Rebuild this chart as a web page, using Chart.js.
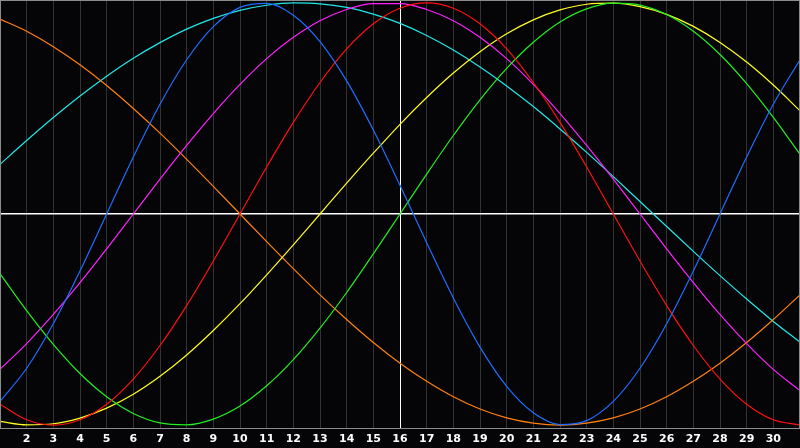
<!DOCTYPE html>
<html>
<head>
<meta charset="utf-8">
<script src="https://cdn.jsdelivr.net/npm/chart.js@4.4.1/dist/chart.umd.min.js"></script>
<style>
  html, body { margin: 0; padding: 0; background: #050508; }
  #wrap { width: 800px; height: 448px; }
</style>
</head>
<body>
<div id="wrap"><canvas id="bio"></canvas></div>
<script>
// days of the month shown on the x axis
const days = [1,2,3,4,5,6,7,8,9,10,11,12,13,14,15,16,17,18,19,20,21,22,23,24,25,26,27,28,29,30,31];
const today = 16;

// values in percent (one per day)
const physical     = [-88.8,-73.1,-52.0,-27.0,0,27.0,52.0,73.1,88.8,97.9,99.8,94.2,81.7,63.1,39.8,13.6,-13.6,-39.8,-63.1,-81.7,-94.2,-99.8,-97.9,-88.8,-73.1,-52.0,-27.0,0,27.0,52.0,73.1];
const emotional    = [-90.1,-97.5,-100,-97.5,-90.1,-78.2,-62.3,-43.4,-22.3,0,22.3,43.4,62.3,78.2,90.1,97.5,100,97.5,90.1,78.2,62.3,43.4,22.3,0,-22.3,-43.4,-62.3,-78.2,-90.1,-97.5,-100];
const intellectual = [-28.3,-45.8,-61.8,-75.6,-86.6,-94.5,-99.0,-99.9,-97.2,-91.0,-81.4,-69.0,-54.1,-37.2,-18.9,0,18.9,37.2,54.1,69.0,81.4,91.0,97.2,99.9,99.0,94.5,86.6,75.6,61.8,45.8,28.3];
const intuitive    = [-73.6,-61.4,-47.6,-32.5,-16.5,0,16.5,32.5,47.6,61.4,73.6,83.7,91.6,96.9,99.7,99.7,96.9,91.6,83.7,73.6,61.4,47.6,32.5,16.5,0,-16.5,-32.5,-47.6,-61.4,-73.6,-83.7];
const aesthetic    = [-98.3,-99.9,-99.4,-96.7,-92.0,-85.4,-76.9,-66.8,-55.2,-42.5,-28.8,-14.6,0,14.6,28.8,42.5,55.2,66.8,76.9,85.4,92.0,96.7,99.4,99.9,98.3,94.6,88.9,81.3,72.0,61.1,48.9];
const awareness    = [92.4,86.6,79.3,70.7,60.9,50.0,38.3,25.9,13.1,0,-13.1,-25.9,-38.3,-50.0,-60.9,-70.7,-79.3,-86.6,-92.4,-96.6,-99.1,-100,-99.1,-96.6,-92.4,-86.6,-79.3,-70.7,-60.9,-50.0,-38.3];
const spiritual    = [23.5,34.8,45.7,55.9,65.3,73.8,81.2,87.6,92.7,96.5,98.9,100,99.6,97.9,94.7,90.3,84.6,77.7,69.7,60.7,50.9,40.3,29.2,17.7,5.9,-5.9,-17.7,-29.2,-40.3,-50.9,-60.7];

const seriesNames  = ['Physical','Emotional','Intellectual','Intuitive','Aesthetic','Awareness','Spiritual'];
const seriesData   = [physical, emotional, intellectual, intuitive, aesthetic, awareness, spiritual];
const seriesColors = ['#1e6eff','#ff1010','#22ee22','#ff22ff','#ffff22','#ff8010','#22e8e8'];

// black backdrop plus the grey frame round the plot
const frame = {
  id: 'frame',
  beforeDraw(chart) {
    const c = chart.ctx;
    c.save();
    c.fillStyle = '#050508';
    c.fillRect(0, 0, chart.width, chart.height);
    c.restore();
  },
  afterDraw(chart) {
    const a = chart.chartArea;
    const c = chart.ctx;
    c.save();
    c.strokeStyle = '#8c8c8c';
    c.lineWidth = 1;
    c.strokeRect(a.left + 0.5, a.top + 0.5, a.right - a.left - 1, a.bottom - a.top);
    c.restore();
  }
};

const datasets = seriesData.map((vals, i) => ({
  label: seriesNames[i],
  data: vals.map((v, j) => ({ x: days[j], y: v })),
  borderColor: seriesColors[i],
  borderWidth: 1.2,
  pointRadius: 0,
  cubicInterpolationMode: 'monotone',
  fill: false
}));

new Chart(document.getElementById('bio'), {
  type: 'line',
  data: { datasets: datasets },
  options: {
    responsive: true,
    maintainAspectRatio: false,
    animation: false,
    layout: { padding: 0 },
    plugins: { legend: { display: false }, tooltip: { enabled: false } },
    scales: {
      x: {
        type: 'linear',
        min: 1,
        max: 31,
        afterBuildTicks: (s) => { s.ticks = days.map(d => ({ value: d })); },
        afterFit: (s) => {
          s.height = 20;
          // no side padding: day 1 sits on the left edge, day 31 on the right
          s.paddingLeft = 0;
          s.paddingRight = 0;
        },
        grid: {
          drawTicks: false,
          lineWidth: 1,
          color: (ctx) => {
            const v = ctx.tick && ctx.tick.value;
            if (v === today) return '#ffffff';
            if (v === 1 || v === 31) return 'rgba(0,0,0,0)';
            return '#333333';
          }
        },
        border: { display: true, color: '#8c8c8c' },
        ticks: {
          color: '#ffffff',
          padding: 5,
          autoSkip: false,
          maxRotation: 0,
          font: { family: 'DejaVu Sans', size: 11, weight: 'bold' },
          callback: (v) => (v === 1 || v === 31) ? '' : String(v)
        }
      },
      y: {
        min: -101.4,
        max: 101.4,
        afterBuildTicks: (s) => { s.ticks = [{ value: 0 }]; },
        afterFit: (s) => { s.width = 0; s.paddingTop = 0; s.paddingBottom = 0; },
        grid: { drawTicks: false, color: '#ffffff', lineWidth: 1.5 },
        border: { display: false },
        ticks: { display: false }
      }
    }
  },
  plugins: [frame]
});
</script>
</body>
</html>
